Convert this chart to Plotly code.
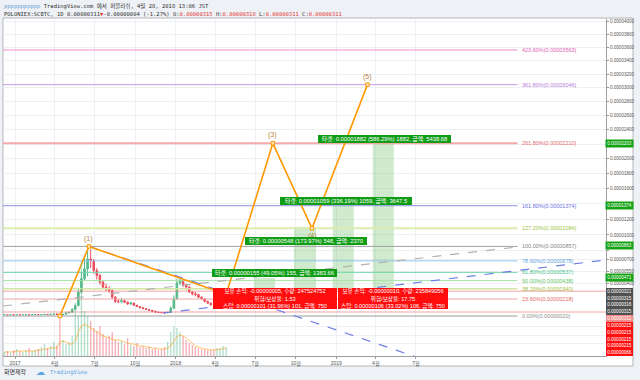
import math
import pandas as pd
import plotly.graph_objects as go

# Prices are in satoshi (1e-8 BTC). The reference price scale is log(price + OFF).
OFF = 11500

week_start = pd.date_range("2016-12-05", periods=73, freq="7D")
close_sat = [32, 30, 33, 31, 34, 30, 32, 33, 31, 34, 36, 33, 35, 38, 36, 40, 42, 38, 26, 40, 55,
             62, 95, 140, 300, 460, 580, 700, 680, 560, 500, 420, 360, 340, 320, 240, 190, 185, 200,
             180, 160, 170, 145, 130, 115, 105, 95, 85, 75, 65, 60, 58, 55, 60, 110, 220,
             410, 440, 390, 360, 300, 280, 270, 240, 220, 190, 170, 150, 145, 160, 175, 210, 311]
high_sat = [34, 33, 35, 34, 36, 35, 34, 35, 34, 36, 38, 37, 37, 41, 40, 43, 46, 44, 40, 44, 60,
            70, 110, 170, 340, 540, 720, 857, 820, 700, 590, 520, 440, 400, 370, 330, 250, 220, 230,
            210, 190, 185, 175, 150, 135, 120, 110, 100, 90, 78, 68, 64, 62, 70, 130, 260,
            460, 480, 450, 400, 370, 310, 300, 280, 250, 230, 200, 175, 160, 170, 185, 230, 320]
low_sat = [29, 28, 29, 29, 30, 28, 29, 30, 29, 30, 33, 31, 32, 34, 34, 35, 39, 36, 20, 25, 38,
           52, 60, 92, 135, 280, 440, 490, 590, 520, 450, 390, 340, 310, 290, 220, 170, 170, 175,
           170, 150, 150, 140, 125, 110, 100, 90, 80, 70, 62, 56, 54, 50, 53, 58, 105,
           210, 380, 360, 330, 290, 260, 250, 230, 210, 180, 160, 140, 135, 140, 155, 170, 205]
open_sat = [31] + close_sat[:-1]
volume = [4, 5, 3, 6, 7, 5, 4, 6, 8, 5, 6, 7, 9, 12, 8, 10, 14, 10, 38, 16, 12,
          14, 20, 50, 40, 95, 45, 40, 35, 28, 25, 30, 22, 18, 20, 24, 16, 14, 15,
          12, 18, 11, 10, 13, 9, 10, 8, 9, 7, 8, 6, 7, 9, 14, 24, 30,
          28, 24, 20, 16, 13, 11, 9, 8, 7, 7, 6, 6, 7, 8, 8, 10, 9]
volume_ma = [4, 4, 4, 4, 5, 5, 5, 5, 5, 5, 5, 6, 6, 7, 7, 8, 8, 8, 14, 15, 14,
             12, 12, 15, 24, 30, 32, 30, 28, 26, 24, 22, 20, 19, 18, 17, 16, 16, 15,
             14, 13, 12, 12, 11, 10, 10, 9, 9, 8, 8, 7, 7, 7, 8, 10, 15,
             19, 21, 20, 18, 15, 12, 10, 9, 8, 7, 7, 6, 6, 6, 7, 7, 8]

fib_pct = ["423.60%", "361.80%", "261.80%", "161.80%", "127.20%", "100.00%",
           "78.60%", "61.80%", "50.00%", "38.20%", "23.60%", "0.00%"]
fib_sat = [3563, 3046, 2210, 1374, 1084, 857, 678, 537, 438, 340, 218, 20]

wave_dates = ["2017-04-13", "2017-06-18", "2018-04-26", "2018-08-10", "2018-11-07", "2019-03-13"]
wave_sat = [20, 857, 275, 2210, 1084, 3046]
wave_names = ["", "(1)", "", "(3)", "(4)", "(5)"]

zone_start = ["2018-06-28", "2018-09-27", "2018-12-24", "2019-03-25"]
zone_end = ["2018-08-15", "2018-11-16", "2019-02-10", "2019-05-12"]
zone_top = [471, 1100, 1374, 2203]
zone_entry = [316, 315, 315, 321]

gray_trend_dates = ["2016-12-05", "2020-02-17"]
gray_trend_sat = [136, 850]
blue_upper_dates = ["2017-06-18", "2019-07-01"]
blue_upper_sat = [857, -445]
blue_lower_dates = ["2017-12-03", "2020-09-05"]
blue_lower_sat = [54, 689]
price_lines_sat = [311, 66]

target_texts = ["타겟: 0.00001882 (586.29%) 1882, 금액: 5438.68",
                "타겟: 0.00001059 (336.19%) 1059, 금액: 3647.5",
                "타겟: 0.00000548 (173.97%) 548, 금액: 2370",
                "타겟: 0.00000155 (49.05%) 155, 금액: 1383.66"]
position_texts = ["보유 손익: -0.00000005, 수량: 247524752<br>위험/보상율: 1.53",
                  "보유 손익: -0.00000010, 수량: 235849056<br>위험/보상율: 17.75"]
stop_texts = ["스탑: 0.00000101 (31.96%) 101, 금액: 750",
              "스탑: 0.00000106 (33.02%) 106, 금액: 750"]

green_axis_sat = [2203, 1374, 863, 471]
dark_axis_sat = [321, 315, 316, 315]
pink_axis_sat = [311]
red_axis_sat = [215, 215, 215, 215, 66]

xtick_vals = ["2017-01-01", "2017-04-01", "2017-07-01", "2017-10-01", "2018-01-01", "2018-04-01",
              "2018-07-01", "2018-10-01", "2019-01-01", "2019-04-01", "2019-07-01"]
xtick_text = ["2017", "4월", "7월", "10월", "2018", "4월", "7월", "10월", "2019", "4월", "7월"]
ytick_sat = [4000, 3800, 3600, 3400, 3200, 3000, 2800, 2600, 2400, 2200, 2000, 1800, 1600,
             1400, 1200, 1000, 800, 700, 550, 400, -100, -200, -300]
ytick_hidden = {2200, 1400, 800, -100, -200, -300}

# ---------------- styling ----------------
fib_line_colors = ["#ea8fd2", "#c99ae6", "#f4aaaa", "#8f8fe6", "#dcecae", "#a0a0a0",
                   "#92c3ec", "#74d8ad", "#a6e2a6", "#d2e6a2", "#efa6a6", "#bdbdbd"]
fib_text_colors = ["#dd63b8", "#b67ddc", "#e26a6a", "#6f6fe0", "#a2c548", "#858585",
                   "#5fa3dd", "#3fbf88", "#5cc25c", "#9fbd40", "#e06666", "#8c8c8c"]
fib_widths = [1, 1, 2, 1, 2, 1, 1, 1, 1, 1.5, 1, 1.5]

SANS = "Liberation Sans, Noto Sans CJK KR, sans-serif"
MONO = "DejaVu Sans Mono, Noto Sans CJK KR, monospace"
X_LEFT = "2016-12-04 17:30"
X_RIGHT = "2020-09-05 04:20"
FIB_END = "2020-02-17"
FIB_LABEL_X = "2020-02-23"

L, R, T, B = 3, 34, 19, 24
W, H = 640, 380
PW, PH = W - L - R, H - T - B


def pxx(x):
    return (x - L) / PW


def pxy(y):
    return (H - B - y) / PH


def ly(v):
    return math.log10(v + OFF)


def fmt(v):
    return f"{v / 1e8:.8f}"


fig = go.Figure()

# target zones
for s, e, t, b in zip(zone_start, zone_end, zone_top, zone_entry):
    fig.add_trace(go.Scatter(x=[s, e, e, s, s], y=[b + OFF, b + OFF, t + OFF, t + OFF, b + OFF],
                             mode="lines", fill="toself", fillcolor="rgba(118,196,112,0.35)",
                             line=dict(width=0), hoverinfo="skip"))

# fib levels
for v, c, w in zip(fib_sat, fib_line_colors, fib_widths):
    fig.add_trace(go.Scatter(x=[X_LEFT, FIB_END], y=[v + OFF, v + OFF], mode="lines",
                             line=dict(color=c, width=w), hoverinfo="skip"))

# price lines
for v in price_lines_sat:
    fig.add_trace(go.Scatter(x=[X_LEFT, X_RIGHT], y=[v + OFF, v + OFF], mode="lines",
                             line=dict(color="rgba(240,120,120,0.45)", width=1.5), hoverinfo="skip"))

# trend lines
fig.add_trace(go.Scatter(x=gray_trend_dates, y=[v + OFF for v in gray_trend_sat], mode="lines",
                         line=dict(color="#b0b0b0", width=1.2, dash="dash"), hoverinfo="skip"))

x_mid = week_start + pd.Timedelta(days=3)
fig.add_trace(go.Candlestick(
    x=x_mid,
    open=[v + OFF for v in open_sat], high=[v + OFF for v in high_sat],
    low=[v + OFF for v in low_sat], close=[v + OFF for v in close_sat],
    increasing=dict(line=dict(color="#53b987", width=1), fillcolor="#53b987"),
    decreasing=dict(line=dict(color="#eb4d5c", width=1), fillcolor="#eb4d5c"),
    whiskerwidth=0, hoverinfo="skip"))

fig.add_trace(go.Scatter(x=blue_upper_dates, y=[v + OFF for v in blue_upper_sat], mode="lines",
                         line=dict(color="#6f7fe6", width=1.2, dash="dash"), hoverinfo="skip"))
fig.add_trace(go.Scatter(x=blue_lower_dates, y=[v + OFF for v in blue_lower_sat], mode="lines",
                         line=dict(color="#6f7fe6", width=1.2, dash="dash"), hoverinfo="skip"))

# Elliott wave
fig.add_trace(go.Scatter(x=wave_dates, y=[v + OFF for v in wave_sat], mode="lines+markers",
                         line=dict(color="#ff9800", width=1.6),
                         marker=dict(symbol="square", size=3.5, color="#ffe4bd",
                                     line=dict(color="#ff9800", width=1)),
                         hoverinfo="skip"))

# volume overlay
vol_colors = ["rgba(83,185,135,0.45)" if c >= o else "rgba(235,77,92,0.45)"
              for o, c in zip(open_sat, close_sat)]
fig.add_trace(go.Bar(x=x_mid, y=volume, marker=dict(color=vol_colors, line=dict(width=0)),
                     width=3 * 86400000, yaxis="y2", hoverinfo="skip"))
fig.add_trace(go.Scatter(x=x_mid, y=volume_ma, mode="lines", yaxis="y2",
                         line=dict(color="rgba(255,152,0,0.7)", width=0.8), hoverinfo="skip"))

ann = []


def box(xc, yc, w, h, text, bg, size, color="white", family=SANS):
    ann.append(dict(x=pxx(xc), y=pxy(yc), xref="paper", yref="paper", text=text,
                    showarrow=False, xanchor="center", yanchor="middle", width=w, height=h,
                    bgcolor=bg, borderpad=0, borderwidth=0, align="center",
                    font=dict(size=size, color=color, family=family)))


# fib labels
for p, v, c in zip(fib_pct, fib_sat, fib_text_colors):
    ann.append(dict(x=FIB_LABEL_X, y=ly(v), xref="x", yref="y", text=f"{p}({fmt(v)})",
                    showarrow=False, xanchor="left", yanchor="middle",
                    font=dict(size=5.5, color=c, family=SANS)))

# wave labels
shifts = {"(1)": 7, "(3)": 8, "(4)": -8, "(5)": 8}
for d, v, n in zip(wave_dates, wave_sat, wave_names):
    if n:
        ann.append(dict(x=d, y=ly(v), xref="x", yref="y", text=n, showarrow=False,
                        yshift=shifts[n], font=dict(size=7, color="#b8813f", family=SANS)))

# position labels
GREEN = "#0f9d16"
REDBOX = "#ff0d0d"
tpos = [(384.5, 138.5, 133), (346, 200.5, 132), (306, 240.5, 122), (274.5, 273, 125)]
for (xc, yc, w), t in zip(tpos, target_texts):
    box(xc, yc, w, 7.5, t, GREEN, 5.8)
box(275, 294.5, 124, 14, position_texts[0], REDBOX, 5.6)
box(392.5, 294.5, 110, 14, position_texts[1], REDBOX, 5.6)
box(275, 305, 124, 7, stop_texts[0], REDBOX, 5.6)
box(392.5, 305, 110, 7, stop_texts[1], REDBOX, 5.6)

# axis price labels
for v in green_axis_sat:
    ann.append(dict(x=pxx(619.5), y=ly(v), xref="paper", yref="y", text=fmt(v), showarrow=False,
                    xanchor="center", yanchor="middle", width=27, height=6.8, bgcolor="#14a314",
                    borderpad=0, font=dict(size=4.6, color="white", family=SANS)))
stack = ([(v, "#505050") for v in dark_axis_sat] + [(v, "#f28b8b") for v in pink_axis_sat]
         + [(v, "#ff1010") for v in red_axis_sat])
stack_y = [291.4, 298.1, 304.9, 311.6, 318.7, 325.4, 332.2, 339.0, 345.8, 352.6]
for (v, c), yc in zip(stack, stack_y):
    box(619.5, yc, 27, 6.8, fmt(v), c, 4.6)

# header
red = "#e53935"
line1 = ("<span style='color:#6fa8dc'>ppppppppppp</span> TradingView.com 에서 퍼블리쉬, "
         "4월 28, 2018 13:06 JST")
line2 = (f"POLONIEX:SCBTC, 1D {fmt(close_sat[-1])}<span style='color:{red}'>▼</span>"
         f"-0.00000004 (-1.27%) O:<span style='color:{red}'>0.00000315</span> "
         f"H:<span style='color:{red}'>0.00000318</span> L:<span style='color:{red}'>0.00000311</span> "
         f"C:<span style='color:{red}'>0.00000311</span>")
for txt, yc in [(line1, 6), (line2, 14)]:
    ann.append(dict(x=pxx(2), y=pxy(yc), xref="paper", yref="paper", text=txt, showarrow=False,
                    xanchor="left", yanchor="middle", font=dict(size=5.5, color="#333", family=MONO)))

# footer
ann.append(dict(x=pxx(2), y=pxy(372), xref="paper", yref="paper", text="화면제작", showarrow=False,
                xanchor="left", yanchor="middle", font=dict(size=6, color="#333", family=SANS)))
ann.append(dict(x=pxx(40.5), y=pxy(372), xref="paper", yref="paper", text="☁", showarrow=False,
                xanchor="center", yanchor="middle", font=dict(size=9, color="#5aa6e6", family="DejaVu Sans")))
ann.append(dict(x=pxx(48), y=pxy(372), xref="paper", yref="paper", text="TradingView", showarrow=False,
                xanchor="left", yanchor="middle", font=dict(size=5.6, color="#5aa6e6", family=MONO)))

frame = dict(type="rect", xref="paper", yref="paper", x0=0, x1=pxx(633), y0=pxy(366), y1=pxy(18),
             fillcolor="white", line=dict(color="#b5b5b5", width=1), layer="below")

fig.update_layout(
    width=W, height=H, margin=dict(l=L, r=R, t=T, b=B, autoexpand=False),
    paper_bgcolor="#eef1f5", plot_bgcolor="white", showlegend=False, hovermode=False,
    xaxis=dict(type="date", range=[X_LEFT, X_RIGHT], tickvals=xtick_vals, ticktext=xtick_text,
               showgrid=True, gridcolor="#edf0f4", gridwidth=1, ticks="outside", ticklen=2,
               tickcolor="#999", tickfont=dict(size=5, color="#555", family=SANS),
               showline=True, linecolor="#9e9e9e", zeroline=False, automargin=False,
               rangeslider=dict(visible=False), fixedrange=True),
    yaxis=dict(type="log", range=[ly(-436), ly(4041)], side="right",
               tickvals=[v + OFF for v in ytick_sat],
               ticktext=["" if v in ytick_hidden else fmt(v) for v in ytick_sat],
               showgrid=True, gridcolor="#edf0f4", ticks="outside", ticklen=2, tickcolor="#999",
               tickfont=dict(size=4.6, color="#555", family=SANS), showline=True,
               linecolor="#9e9e9e", zeroline=False, automargin=False, fixedrange=True),
    yaxis2=dict(overlaying="y", range=[0, PH], visible=False, fixedrange=True, automargin=False),
    shapes=[frame], annotations=ann,
)

fig.write_html("out.html", config={"displayModeBar": False, "staticPlot": True},
               post_script="document.body.style.margin='0';")
